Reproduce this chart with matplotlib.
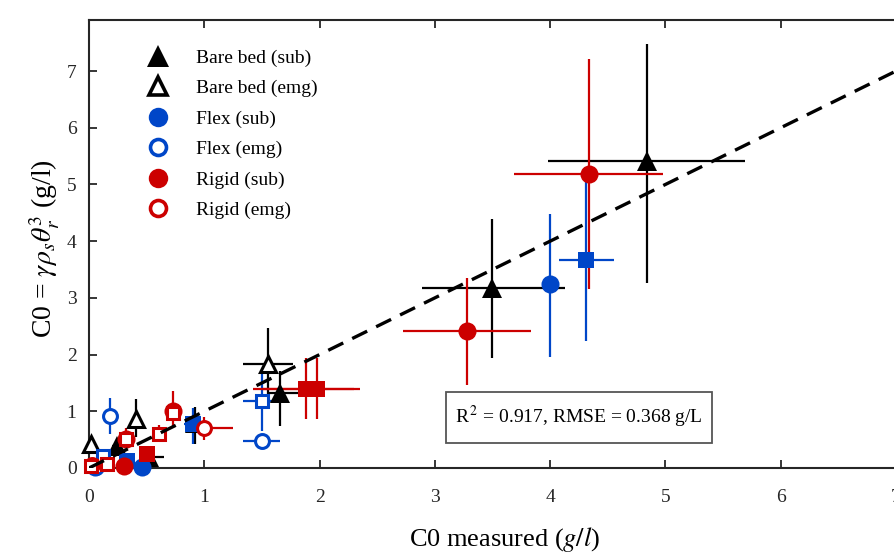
import matplotlib
matplotlib.use("Agg")
import matplotlib.pyplot as plt
from matplotlib.lines import Line2D
from matplotlib.patches import Rectangle

plt.rcParams['font.family'] = ['Liberation Serif', 'DejaVu Serif']
plt.rcParams['mathtext.fontset'] = 'stix'

BLACK = '#000000'
BLUE = '#0046c8'
RED = '#cc0000'

# ---- data: x, y, x-range (lo/hi), y-range (lo/hi) ----
bare_sub_x = [4.84, 3.50, 1.66, 0.92, 0.52, 0.24]
bare_sub_y = [5.41, 3.17, 1.32, 0.80, 0.20, 0.38]
bare_sub_xlo = [3.98, 2.89, 1.54, 0.88, 0.45, 0.20]
bare_sub_xhi = [5.69, 4.13, 1.83, 0.96, 0.65, 0.28]
bare_sub_ylo = [3.26, 1.94, 0.74, 0.42, 0.12, 0.30]
bare_sub_yhi = [7.48, 4.39, 1.71, 1.08, 0.32, 0.46]

bare_emg_x = [1.55, 0.41, 0.02]
bare_emg_y = [1.83, 0.86, 0.42]
bare_emg_xlo = [1.34, 0.38, 0.00]
bare_emg_xhi = [1.77, 0.44, 0.04]
bare_emg_ylo = [1.20, 0.55, 0.30]
bare_emg_yhi = [2.47, 1.22, 0.55]

flex_sub_x = [4.00, 0.46, 0.05]
flex_sub_y = [3.24, 0.02, 0.02]
flex_sub_xlo = [3.96, 0.42, 0.02]
flex_sub_xhi = [4.04, 0.50, 0.08]
flex_sub_ylo = [1.96, 0.00, 0.00]
flex_sub_yhi = [4.48, 0.06, 0.06]

flex_emg_x = [1.50, 0.18, 0.06]
flex_emg_y = [0.48, 0.92, 0.02]
flex_emg_xlo = [1.34, 0.16, 0.04]
flex_emg_xhi = [1.66, 0.20, 0.08]
flex_emg_ylo = [0.44, 0.60, 0.00]
flex_emg_yhi = [0.52, 1.23, 0.05]

flex_sub_sq_x = [4.31, 0.90, 0.33]
flex_sub_sq_y = [3.67, 0.77, 0.12]
flex_sub_sq_xlo = [4.08, 0.82, 0.28]
flex_sub_sq_xhi = [4.55, 0.99, 0.38]
flex_sub_sq_ylo = [2.24, 0.42, 0.05]
flex_sub_sq_yhi = [5.10, 1.06, 0.20]

flex_emg_sq_x = [1.50, 0.12]
flex_emg_sq_y = [1.18, 0.22]
flex_emg_sq_xlo = [1.34, 0.08]
flex_emg_sq_xhi = [1.66, 0.16]
flex_emg_sq_ylo = [0.65, 0.15]
flex_emg_sq_yhi = [1.66, 0.30]

rigid_sub_x = [4.34, 3.28, 0.73, 0.32, 0.30]
rigid_sub_y = [5.19, 2.42, 1.00, 0.51, 0.04]
rigid_sub_xlo = [3.69, 2.72, 0.70, 0.30, 0.27]
rigid_sub_xhi = [4.98, 3.83, 0.76, 0.35, 0.33]
rigid_sub_ylo = [3.16, 1.46, 0.70, 0.35, 0.00]
rigid_sub_yhi = [7.21, 3.35, 1.36, 0.70, 0.08]

rigid_sub_sq_x = [1.88, 1.98, 0.50]
rigid_sub_sq_y = [1.40, 1.40, 0.25]
rigid_sub_sq_xlo = [1.42, 1.50, 0.45]
rigid_sub_sq_xhi = [2.30, 2.35, 0.56]
rigid_sub_sq_ylo = [0.86, 0.86, 0.15]
rigid_sub_sq_yhi = [1.94, 1.94, 0.35]

rigid_emg_x = [1.00, 0.03]
rigid_emg_y = [0.71, 0.05]
rigid_emg_xlo = [0.94, 0.00]
rigid_emg_xhi = [1.25, 0.06]
rigid_emg_ylo = [0.50, 0.00]
rigid_emg_yhi = [0.90, 0.10]

rigid_emg_sq_x = [0.61, 0.32, 0.16, 0.02, 0.73]
rigid_emg_sq_y = [0.60, 0.51, 0.07, 0.04, 0.97]
rigid_emg_sq_xlo = [0.57, 0.29, 0.12, 0.00, 0.70]
rigid_emg_sq_xhi = [0.65, 0.35, 0.20, 0.05, 0.76]
rigid_emg_sq_ylo = [0.45, 0.40, 0.02, 0.00, 0.85]
rigid_emg_sq_yhi = [0.75, 0.65, 0.12, 0.08, 1.10]

legend_labels = ['Bare bed (sub)', 'Bare bed (emg)', 'Flex (sub)', 'Flex (emg)',
                 'Rigid (sub)', 'Rigid (emg)']
stats_text = r'R$^{\,2}$ = 0.917, RMSE = 0.368 g/L'
x_ticks = [0, 1, 2, 3, 4, 5, 6, 7]
y_ticks = [0, 1, 2, 3, 4, 5, 6, 7]

fig = plt.figure(figsize=(8.95, 5.55), dpi=100)
ax = fig.add_axes([89/895, 87/555, 807/895, 448/555])
ax.set_xlim(0, 7)
ax.set_ylim(0, 7.9)


def series(x, y, xlo, xhi, ylo, yhi, color, marker, filled, ms):
    xe = [[xi - a for xi, a in zip(x, xlo)], [b - xi for xi, b in zip(x, xhi)]]
    ye = [[yi - a for yi, a in zip(y, ylo)], [b - yi for yi, b in zip(y, yhi)]]
    eb = ax.errorbar(x, y, xerr=xe, yerr=ye, fmt='none', ecolor=color,
                     elinewidth=1.6, capsize=0, zorder=2)
    for c in eb[2]:
        c.set_clip_on(False)
    ax.plot(x, y, linestyle='none', marker=marker, markersize=ms,
            markerfacecolor=color if filled else 'white',
            markeredgecolor=color, markeredgewidth=0 if filled else 2.2,
            zorder=3, clip_on=False)


series(bare_sub_x, bare_sub_y, bare_sub_xlo, bare_sub_xhi, bare_sub_ylo, bare_sub_yhi, BLACK, '^', True, 15)
series(bare_emg_x, bare_emg_y, bare_emg_xlo, bare_emg_xhi, bare_emg_ylo, bare_emg_yhi, BLACK, '^', False, 12)
series(flex_sub_x, flex_sub_y, flex_sub_xlo, flex_sub_xhi, flex_sub_ylo, flex_sub_yhi, BLUE, 'o', True, 13)
series(flex_emg_x, flex_emg_y, flex_emg_xlo, flex_emg_xhi, flex_emg_ylo, flex_emg_yhi, BLUE, 'o', False, 10)
series(flex_sub_sq_x, flex_sub_sq_y, flex_sub_sq_xlo, flex_sub_sq_xhi, flex_sub_sq_ylo, flex_sub_sq_yhi, BLUE, 's', True, 11)
series(flex_emg_sq_x, flex_emg_sq_y, flex_emg_sq_xlo, flex_emg_sq_xhi, flex_emg_sq_ylo, flex_emg_sq_yhi, BLUE, 's', False, 8)
series(rigid_sub_x, rigid_sub_y, rigid_sub_xlo, rigid_sub_xhi, rigid_sub_ylo, rigid_sub_yhi, RED, 'o', True, 13)
series(rigid_sub_sq_x, rigid_sub_sq_y, rigid_sub_sq_xlo, rigid_sub_sq_xhi, rigid_sub_sq_ylo, rigid_sub_sq_yhi, RED, 's', True, 12)
series(rigid_emg_x, rigid_emg_y, rigid_emg_xlo, rigid_emg_xhi, rigid_emg_ylo, rigid_emg_yhi, RED, 'o', False, 10)
series(rigid_emg_sq_x, rigid_emg_sq_y, rigid_emg_sq_xlo, rigid_emg_sq_xhi, rigid_emg_sq_ylo, rigid_emg_sq_yhi, RED, 's', False, 8)

# 1:1 line
ax.plot([0, 7], [0, 7], color='black', linewidth=2.4, linestyle=(0, (5, 3)), zorder=5)

# axes styling
for side in ['left', 'bottom', 'top']:
    ax.spines[side].set_linewidth(1.5)
    ax.spines[side].set_color('#262626')
ax.spines['right'].set_visible(False)
ax.tick_params(direction='in', length=6, width=1.3, colors='#262626',
               labelsize=14, top=True, right=False, labeltop=False)
ax.tick_params(axis='x', pad=15)
ax.tick_params(axis='y', pad=9)
ax.set_xticks(x_ticks)
ax.set_yticks(y_ticks)

ax.set_xlabel(r'C0 measured ($g/l$)', fontsize=19)
ax.xaxis.set_label_coords(0.515, -0.128)
ax.set_ylabel(r'C0 = $\gamma\rho_s\theta_r^3$ (g/l)', fontsize=20)
ax.yaxis.set_label_coords(-0.034, 0.49)

# legend
handles = [
    Line2D([], [], ls='none', marker='^', ms=16, mfc=BLACK, mec=BLACK, mew=0),
    Line2D([], [], ls='none', marker='^', ms=13, mfc='white', mec=BLACK, mew=2.6),
    Line2D([], [], ls='none', marker='o', ms=14, mfc=BLUE, mec=BLUE, mew=0),
    Line2D([], [], ls='none', marker='o', ms=11.5, mfc='white', mec=BLUE, mew=2.6),
    Line2D([], [], ls='none', marker='o', ms=14, mfc=RED, mec=RED, mew=0),
    Line2D([], [], ls='none', marker='o', ms=11.5, mfc='white', mec=RED, mew=2.6),
]
ax.legend(handles, legend_labels, loc='upper left', bbox_to_anchor=(0.071, 0.935),
          frameon=False, fontsize=14, handlelength=1.2, handletextpad=1.34,
          labelspacing=0.66, borderaxespad=0, borderpad=0)

# stats box
ax.add_patch(Rectangle((0.442, 0.056), 0.330, 0.114, transform=ax.transAxes,
                       facecolor='white', edgecolor='#555555', linewidth=1.3, zorder=6))
ax.text(0.607, 0.113, stats_text, transform=ax.transAxes, ha='center', va='center',
        fontsize=14, zorder=7)

fig.savefig('out.png', dpi=100)
